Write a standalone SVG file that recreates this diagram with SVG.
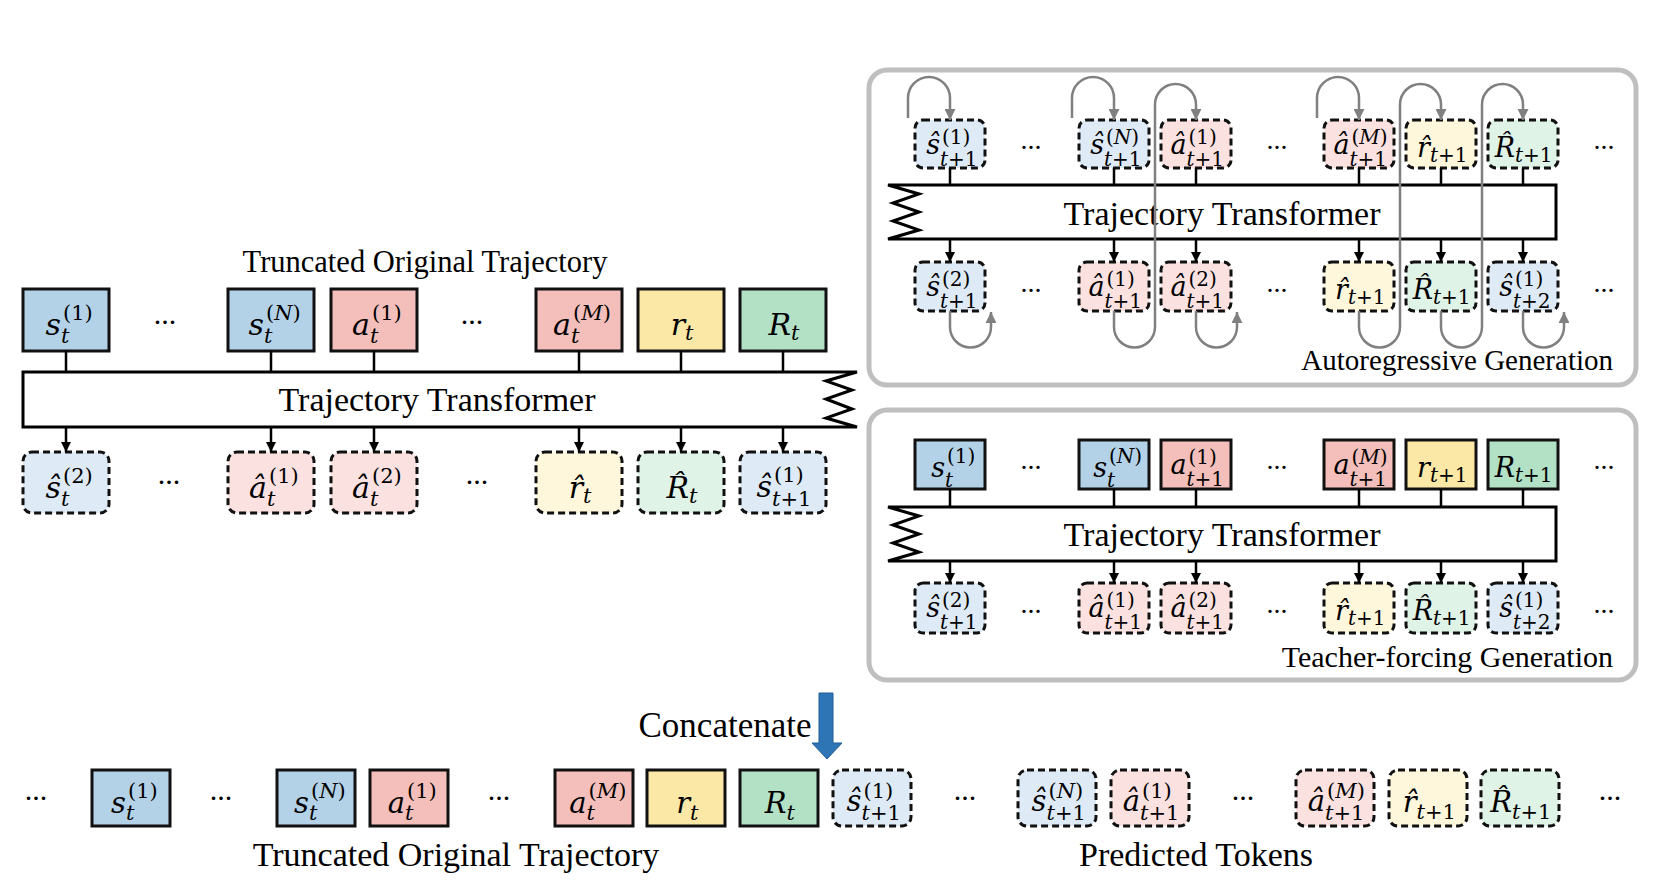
<svg xmlns="http://www.w3.org/2000/svg" width="1657" height="892" viewBox="0 0 1657 892">
<style>
.bx{stroke:#111;stroke-width:3}
.ds{stroke:#111;stroke-width:3;stroke-dasharray:7 4}
.fb{fill:#b4d2e7}.fr{fill:#f4bfba}.fy{fill:#fce8a6}.fg{fill:#b3e1c6}
.lb{fill:#deeaf6}.lr{fill:#fbe2e1}.ly{fill:#fef7dc}.lg{fill:#e0f3e7}
.tf{fill:#fff;stroke:#000;stroke-width:3;stroke-linejoin:miter}
.pn{fill:#fff;stroke:#bfbfbf;stroke-width:5}
.mm{font-family:"DejaVu Serif",serif;font-style:italic;text-anchor:end;fill:#000}
.ss{font-family:"DejaVu Serif",serif;font-style:normal;fill:#000}
.i{font-style:italic}
.f30{font-size:30px}.f21{font-size:21px}.f26{font-size:27px}.f19{font-size:20px}.f28{font-size:29px}.f20{font-size:21px}
.ttl{font-family:"Liberation Serif","Times New Roman",serif;fill:#000}
.dot{font-family:"Liberation Serif","Times New Roman",serif;fill:#000;text-anchor:middle}
.con{stroke:#000;stroke-width:2.5;fill:none}
.loop{stroke:#808080;stroke-width:2.5;fill:none}
</style>
<defs>
<marker id="ah" viewBox="0 0 10 10" refX="10" refY="5" markerWidth="10" markerHeight="10" orient="auto" markerUnits="userSpaceOnUse"><path d="M0,0 L10,5 L0,10 z" fill="#000"/></marker>
<marker id="ag" viewBox="0 0 10 10" refX="10" refY="5" markerWidth="11" markerHeight="11" orient="auto" markerUnits="userSpaceOnUse"><path d="M0,0 L10,5 L0,10 z" fill="#808080"/></marker>
</defs>
<rect width="1657" height="892" fill="#fff"/>

<g id="panel-autoregressive"><rect class="pn" x="869" y="70" width="767" height="315" rx="18"/></g>
<g id="panel-teacher"><rect class="pn" x="869" y="410" width="767" height="270" rx="18"/></g>

<g id="titles">
<text class="ttl" x="425" y="272" font-size="30.5" text-anchor="middle">Truncated Original Trajectory</text>
<text class="ttl" x="1613" y="370" font-size="29" text-anchor="end">Autoregressive Generation</text>
<text class="ttl" x="1613" y="667" font-size="30" text-anchor="end">Teacher-forcing Generation</text>
<text class="ttl" x="725" y="737" font-size="35" text-anchor="middle">Concatenate</text>
<text class="ttl" x="456" y="866" font-size="34" text-anchor="middle">Truncated Original Trajectory</text>
<text class="ttl" x="1196" y="866" font-size="34" text-anchor="middle">Predicted Tokens</text>
</g>

<g id="tf-left">
<path class="tf" d="M23,372 H857 L826,381 L852,390 L826,399 L852,409 L826,418 L857,427 H23 Z"/>
<text class="ttl" x="437" y="411" font-size="34" text-anchor="middle">Trajectory Transformer</text>
</g>
<g id="tf-ar">
<path class="tf" d="M888,185 H1556 V239 H888 L919,230 L893,221 L919,212 L893,203 L919,194 Z"/>
<text class="ttl" x="1222" y="225" font-size="34" text-anchor="middle">Trajectory Transformer</text>
</g>
<g id="tf-tf">
<path class="tf" d="M888,507 H1556 V561 H888 L919,552 L893,543 L919,534 L893,525 L919,516 Z"/>
<text class="ttl" x="1222" y="546" font-size="34" text-anchor="middle">Trajectory Transformer</text>
</g>

<g id="ellipses">
<text class="dot" x="165" y="324" font-size="30">...</text>
<text class="dot" x="472" y="324" font-size="30">...</text>
<text class="dot" x="169" y="484" font-size="30">...</text>
<text class="dot" x="477" y="484" font-size="30">...</text>
<text class="dot" x="1031" y="149" font-size="28">...</text>
<text class="dot" x="1277" y="149" font-size="28">...</text>
<text class="dot" x="1604" y="149" font-size="28">...</text>
<text class="dot" x="1031" y="292" font-size="28">...</text>
<text class="dot" x="1277" y="292" font-size="28">...</text>
<text class="dot" x="1604" y="292" font-size="28">...</text>
<text class="dot" x="1031" y="469" font-size="28">...</text>
<text class="dot" x="1277" y="469" font-size="28">...</text>
<text class="dot" x="1604" y="469" font-size="28">...</text>
<text class="dot" x="1031" y="613" font-size="28">...</text>
<text class="dot" x="1277" y="613" font-size="28">...</text>
<text class="dot" x="1604" y="613" font-size="28">...</text>
<text class="dot" x="36" y="800" font-size="30">...</text>
<text class="dot" x="221" y="800" font-size="30">...</text>
<text class="dot" x="499" y="800" font-size="30">...</text>
<text class="dot" x="965" y="800" font-size="30">...</text>
<text class="dot" x="1243" y="800" font-size="30">...</text>
<text class="dot" x="1610" y="800" font-size="30">...</text>
</g>

<!-- left panel input tokens (top 289) -->
<g id="L-s1"><rect class="bx fb" x="23" y="289" width="86" height="62"/><text class="mm f30" x="61" y="335">s</text><text class="ss f21" x="63" y="320">(1)</text><text class="ss f21 i" x="61" y="343">t</text></g>
<g id="L-sN"><rect class="bx fb" x="228" y="289" width="86" height="62"/><text class="mm f30" x="264" y="335">s</text><text class="ss f21" x="266" y="320">(<tspan class="i">N</tspan>)</text><text class="ss f21 i" x="264" y="343">t</text></g>
<g id="L-a1"><rect class="bx fr" x="331" y="289" width="86" height="62"/><text class="mm f30" x="370" y="335">a</text><text class="ss f21" x="372" y="320">(1)</text><text class="ss f21 i" x="370" y="343">t</text></g>
<g id="L-aM"><rect class="bx fr" x="536" y="289" width="86" height="62"/><text class="mm f30" x="571" y="335">a</text><text class="ss f21" x="573" y="320">(<tspan class="i">M</tspan>)</text><text class="ss f21 i" x="571" y="343">t</text></g>
<g id="L-r"><rect class="bx fy" x="638" y="289" width="86" height="62"/><text class="mm f30" x="685" y="335">r</text><text class="ss f21 i" x="685" y="340">t</text></g>
<g id="L-R"><rect class="bx fg" x="740" y="289" width="86" height="62"/><text class="mm f30" x="791" y="335">R</text><text class="ss f21 i" x="791" y="340">t</text></g>

<!-- left panel predicted tokens (top 452) -->
<g id="L-ps2"><rect class="ds lb" x="23" y="452" width="86" height="61" rx="9"/><text class="mm f30" x="61" y="498">ŝ</text><text class="ss f21" x="63" y="483">(2)</text><text class="ss f21 i" x="61" y="506">t</text></g>
<g id="L-pa1"><rect class="ds lr" x="228" y="452" width="86" height="61" rx="9"/><text class="mm f30" x="267" y="498">â</text><text class="ss f21" x="269" y="483">(1)</text><text class="ss f21 i" x="267" y="506">t</text></g>
<g id="L-pa2"><rect class="ds lr" x="331" y="452" width="86" height="61" rx="9"/><text class="mm f30" x="370" y="498">â</text><text class="ss f21" x="372" y="483">(2)</text><text class="ss f21 i" x="370" y="506">t</text></g>
<g id="L-pr"><rect class="ds ly" x="536" y="452" width="86" height="61" rx="9"/><text class="mm f30" x="583" y="498">r̂</text><text class="ss f21 i" x="583" y="503">t</text></g>
<g id="L-pR"><rect class="ds lg" x="638" y="452" width="86" height="61" rx="9"/><text class="mm f30" x="689" y="498">R̂</text><text class="ss f21 i" x="689" y="503">t</text></g>
<g id="L-ps1n"><rect class="ds lb" x="740" y="452" width="86" height="61" rx="9"/><text class="mm f30" x="772" y="497">ŝ</text><text class="ss f21" x="774" y="482">(1)</text><text class="ss f21" x="772" y="506"><tspan class="i">t</tspan>+1</text></g>

<!-- autoregressive top row (top 120) -->
<g id="A-s1"><rect class="ds lb" x="915" y="120" width="70" height="48" rx="8"/><text class="mm f26" x="940" y="154">ŝ</text><text class="ss f19" x="942" y="144">(1)</text><text class="ss f19" x="940" y="166"><tspan class="i">t</tspan>+1</text></g>
<g id="A-sN"><rect class="ds lb" x="1079" y="120" width="70" height="48" rx="8"/><text class="mm f26" x="1104" y="154">ŝ</text><text class="ss f19" x="1106" y="144">(<tspan class="i">N</tspan>)</text><text class="ss f19" x="1104" y="166"><tspan class="i">t</tspan>+1</text></g>
<g id="A-a1"><rect class="ds lr" x="1161" y="120" width="70" height="48" rx="8"/><text class="mm f26" x="1186.5" y="154">â</text><text class="ss f19" x="1188.5" y="144">(1)</text><text class="ss f19" x="1186.5" y="166"><tspan class="i">t</tspan>+1</text></g>
<g id="A-aM"><rect class="ds lr" x="1324" y="120" width="70" height="48" rx="8"/><text class="mm f26" x="1349.5" y="154">â</text><text class="ss f19" x="1351.5" y="144">(<tspan class="i">M</tspan>)</text><text class="ss f19" x="1349.5" y="166"><tspan class="i">t</tspan>+1</text></g>
<g id="A-r"><rect class="ds ly" x="1406" y="120" width="70" height="48" rx="8"/><text class="mm f26" x="1430" y="157">r̂</text><text class="ss f19" x="1430" y="162"><tspan class="i">t</tspan>+1</text></g>
<g id="A-R"><rect class="ds lg" x="1488" y="120" width="70" height="48" rx="8"/><text class="mm f26" x="1515" y="157">R̂</text><text class="ss f19" x="1515" y="162"><tspan class="i">t</tspan>+1</text></g>

<!-- autoregressive bottom row (top 262) -->
<g id="A-ps2"><rect class="ds lb" x="915" y="262" width="70" height="49" rx="8"/><text class="mm f26" x="940" y="296">ŝ</text><text class="ss f19" x="942" y="286">(2)</text><text class="ss f19" x="940" y="308"><tspan class="i">t</tspan>+1</text></g>
<g id="A-pa1"><rect class="ds lr" x="1079" y="262" width="70" height="49" rx="8"/><text class="mm f26" x="1104.5" y="296">â</text><text class="ss f19" x="1106.5" y="286">(1)</text><text class="ss f19" x="1104.5" y="308"><tspan class="i">t</tspan>+1</text></g>
<g id="A-pa2"><rect class="ds lr" x="1161" y="262" width="70" height="49" rx="8"/><text class="mm f26" x="1186.5" y="296">â</text><text class="ss f19" x="1188.5" y="286">(2)</text><text class="ss f19" x="1186.5" y="308"><tspan class="i">t</tspan>+1</text></g>
<g id="A-pr"><rect class="ds ly" x="1324" y="262" width="70" height="49" rx="8"/><text class="mm f26" x="1348" y="299">r̂</text><text class="ss f19" x="1348" y="304"><tspan class="i">t</tspan>+1</text></g>
<g id="A-pR"><rect class="ds lg" x="1406" y="262" width="70" height="49" rx="8"/><text class="mm f26" x="1433" y="299">R̂</text><text class="ss f19" x="1433" y="304"><tspan class="i">t</tspan>+1</text></g>
<g id="A-ps1n"><rect class="ds lb" x="1488" y="262" width="70" height="49" rx="8"/><text class="mm f26" x="1513" y="296">ŝ</text><text class="ss f19" x="1515" y="286">(1)</text><text class="ss f19" x="1513" y="308"><tspan class="i">t</tspan>+2</text></g>

<!-- teacher forcing top row (top 440) -->
<g id="T-s1"><rect class="bx fb" x="915" y="440" width="70" height="49"/><text class="mm f26" x="945" y="477">s</text><text class="ss f19" x="947" y="463">(1)</text><text class="ss f19 i" x="945" y="487">t</text></g>
<g id="T-sN"><rect class="bx fb" x="1079" y="440" width="70" height="49"/><text class="mm f26" x="1107" y="477">s</text><text class="ss f19" x="1109" y="463">(<tspan class="i">N</tspan>)</text><text class="ss f19 i" x="1107" y="487">t</text></g>
<g id="T-a1"><rect class="bx fr" x="1161" y="440" width="70" height="49"/><text class="mm f26" x="1186.5" y="474">a</text><text class="ss f19" x="1188.5" y="464">(1)</text><text class="ss f19" x="1186.5" y="486"><tspan class="i">t</tspan>+1</text></g>
<g id="T-aM"><rect class="bx fr" x="1324" y="440" width="70" height="49"/><text class="mm f26" x="1349.5" y="474">a</text><text class="ss f19" x="1351.5" y="464">(<tspan class="i">M</tspan>)</text><text class="ss f19" x="1349.5" y="486"><tspan class="i">t</tspan>+1</text></g>
<g id="T-r"><rect class="bx fy" x="1406" y="440" width="70" height="49"/><text class="mm f26" x="1430" y="477">r</text><text class="ss f19" x="1430" y="482"><tspan class="i">t</tspan>+1</text></g>
<g id="T-R"><rect class="bx fg" x="1488" y="440" width="70" height="49"/><text class="mm f26" x="1515" y="477">R</text><text class="ss f19" x="1515" y="482"><tspan class="i">t</tspan>+1</text></g>

<!-- teacher forcing bottom row (top 583) -->
<g id="T-ps2"><rect class="ds lb" x="915" y="583" width="70" height="50" rx="8"/><text class="mm f26" x="940" y="617">ŝ</text><text class="ss f19" x="942" y="607">(2)</text><text class="ss f19" x="940" y="629"><tspan class="i">t</tspan>+1</text></g>
<g id="T-pa1"><rect class="ds lr" x="1079" y="583" width="70" height="50" rx="8"/><text class="mm f26" x="1104.5" y="617">â</text><text class="ss f19" x="1106.5" y="607">(1)</text><text class="ss f19" x="1104.5" y="629"><tspan class="i">t</tspan>+1</text></g>
<g id="T-pa2"><rect class="ds lr" x="1161" y="583" width="70" height="50" rx="8"/><text class="mm f26" x="1186.5" y="617">â</text><text class="ss f19" x="1188.5" y="607">(2)</text><text class="ss f19" x="1186.5" y="629"><tspan class="i">t</tspan>+1</text></g>
<g id="T-pr"><rect class="ds ly" x="1324" y="583" width="70" height="50" rx="8"/><text class="mm f26" x="1348" y="620">r̂</text><text class="ss f19" x="1348" y="625"><tspan class="i">t</tspan>+1</text></g>
<g id="T-pR"><rect class="ds lg" x="1406" y="583" width="70" height="50" rx="8"/><text class="mm f26" x="1433" y="620">R̂</text><text class="ss f19" x="1433" y="625"><tspan class="i">t</tspan>+1</text></g>
<g id="T-ps1n"><rect class="ds lb" x="1488" y="583" width="70" height="50" rx="8"/><text class="mm f26" x="1513" y="617">ŝ</text><text class="ss f19" x="1515" y="607">(1)</text><text class="ss f19" x="1513" y="629"><tspan class="i">t</tspan>+2</text></g>

<!-- bottom concatenated sequence (top 770) -->
<g id="B-s1"><rect class="bx fb" x="92" y="770" width="78" height="56"/><text class="mm f28" x="126" y="813">s</text><text class="ss f20" x="128" y="798">(1)</text><text class="ss f20 i" x="126" y="820">t</text></g>
<g id="B-sN"><rect class="bx fb" x="277" y="770" width="78" height="56"/><text class="mm f28" x="309" y="813">s</text><text class="ss f20" x="311" y="798">(<tspan class="i">N</tspan>)</text><text class="ss f20 i" x="309" y="820">t</text></g>
<g id="B-a1"><rect class="bx fr" x="370" y="770" width="78" height="56"/><text class="mm f28" x="405" y="813">a</text><text class="ss f20" x="407" y="798">(1)</text><text class="ss f20 i" x="405" y="820">t</text></g>
<g id="B-aM"><rect class="bx fr" x="555" y="770" width="78" height="56"/><text class="mm f28" x="586.5" y="813">a</text><text class="ss f20" x="588.5" y="798">(<tspan class="i">M</tspan>)</text><text class="ss f20 i" x="586.5" y="820">t</text></g>
<g id="B-r"><rect class="bx fy" x="647" y="770" width="78" height="56"/><text class="mm f28" x="690" y="813">r</text><text class="ss f20 i" x="690" y="820">t</text></g>
<g id="B-R"><rect class="bx fg" x="740" y="770" width="78" height="56"/><text class="mm f28" x="786.5" y="813">R</text><text class="ss f20 i" x="786.5" y="820">t</text></g>
<g id="B-ps1"><rect class="ds lb" x="833" y="770" width="78" height="56" rx="9"/><text class="mm f28" x="861.5" y="811">ŝ</text><text class="ss f20" x="863.5" y="798">(1)</text><text class="ss f20" x="861.5" y="820"><tspan class="i">t</tspan>+1</text></g>
<g id="B-psN"><rect class="ds lb" x="1018" y="770" width="78" height="56" rx="9"/><text class="mm f28" x="1046.5" y="811">ŝ</text><text class="ss f20" x="1048.5" y="798">(<tspan class="i">N</tspan>)</text><text class="ss f20" x="1046.5" y="820"><tspan class="i">t</tspan>+1</text></g>
<g id="B-pa1"><rect class="ds lr" x="1111" y="770" width="78" height="56" rx="9"/><text class="mm f28" x="1140" y="811">â</text><text class="ss f20" x="1142" y="798">(1)</text><text class="ss f20" x="1140" y="820"><tspan class="i">t</tspan>+1</text></g>
<g id="B-paM"><rect class="ds lr" x="1296" y="770" width="78" height="56" rx="9"/><text class="mm f28" x="1325" y="811">â</text><text class="ss f20" x="1327" y="798">(<tspan class="i">M</tspan>)</text><text class="ss f20" x="1325" y="820"><tspan class="i">t</tspan>+1</text></g>
<g id="B-pr"><rect class="ds ly" x="1389" y="770" width="78" height="56" rx="9"/><text class="mm f28" x="1416.5" y="812">r̂</text><text class="ss f20" x="1416.5" y="819"><tspan class="i">t</tspan>+1</text></g>
<g id="B-pR"><rect class="ds lg" x="1481" y="770" width="78" height="56" rx="9"/><text class="mm f28" x="1512" y="812">R̂</text><text class="ss f20" x="1512" y="819"><tspan class="i">t</tspan>+1</text></g>

<g id="concat-arrow"><path d="M819,693 H833 V743 H842 L827,759 L812,743 H819 Z" fill="#2e75b6" stroke="#1f5f99" stroke-width="1"/></g>

<g id="connectors">
<g class="con">
<path d="M66,351V372M271,351V372M374,351V372M579,351V372M681,351V372M783,351V372"/>
<path d="M950,168V185M1114,168V185M1196,168V185M1359,168V185M1441,168V185M1523,168V185"/>
<path d="M950,489V507M1114,489V507M1196,489V507M1359,489V507M1441,489V507M1523,489V507"/>
</g>
<g class="con" marker-end="url(#ah)">
<path d="M66,427V452"/><path d="M271,427V452"/><path d="M374,427V452"/><path d="M579,427V452"/><path d="M681,427V452"/><path d="M783,427V452"/>
<path d="M950,239V262"/><path d="M1114,239V262"/><path d="M1196,239V262"/><path d="M1359,239V262"/><path d="M1441,239V262"/><path d="M1523,239V262"/>
<path d="M950,561V583"/><path d="M1114,561V583"/><path d="M1196,561V583"/><path d="M1359,561V583"/><path d="M1441,561V583"/><path d="M1523,561V583"/>
</g>
<g class="loop" marker-end="url(#ag)">
<path d="M908,118V98A21,21 0 0 1 950,98V120"/>
<path d="M1072,118V98A21,21 0 0 1 1114,98V120"/>
<path d="M1317,118V98A21,21 0 0 1 1359,98V120"/>
<path d="M950,311V327A20.5,20.5 0 0 0 991,327V312"/>
<path d="M1196,311V327A20.5,20.5 0 0 0 1237,327V312"/>
<path d="M1523,311V327A20.5,20.5 0 0 0 1564,327V312"/>
<path d="M1114,311V327A20.5,20.5 0 0 0 1155,327V104.5A20.5,20.5 0 0 1 1196,104.5V120"/>
<path d="M1359,311V327A20.5,20.5 0 0 0 1400,327V104.5A20.5,20.5 0 0 1 1441,104.5V120"/>
<path d="M1441,311V327A20.5,20.5 0 0 0 1482,327V104.5A20.5,20.5 0 0 1 1523,104.5V120"/>
</g>
</g>
</svg>
